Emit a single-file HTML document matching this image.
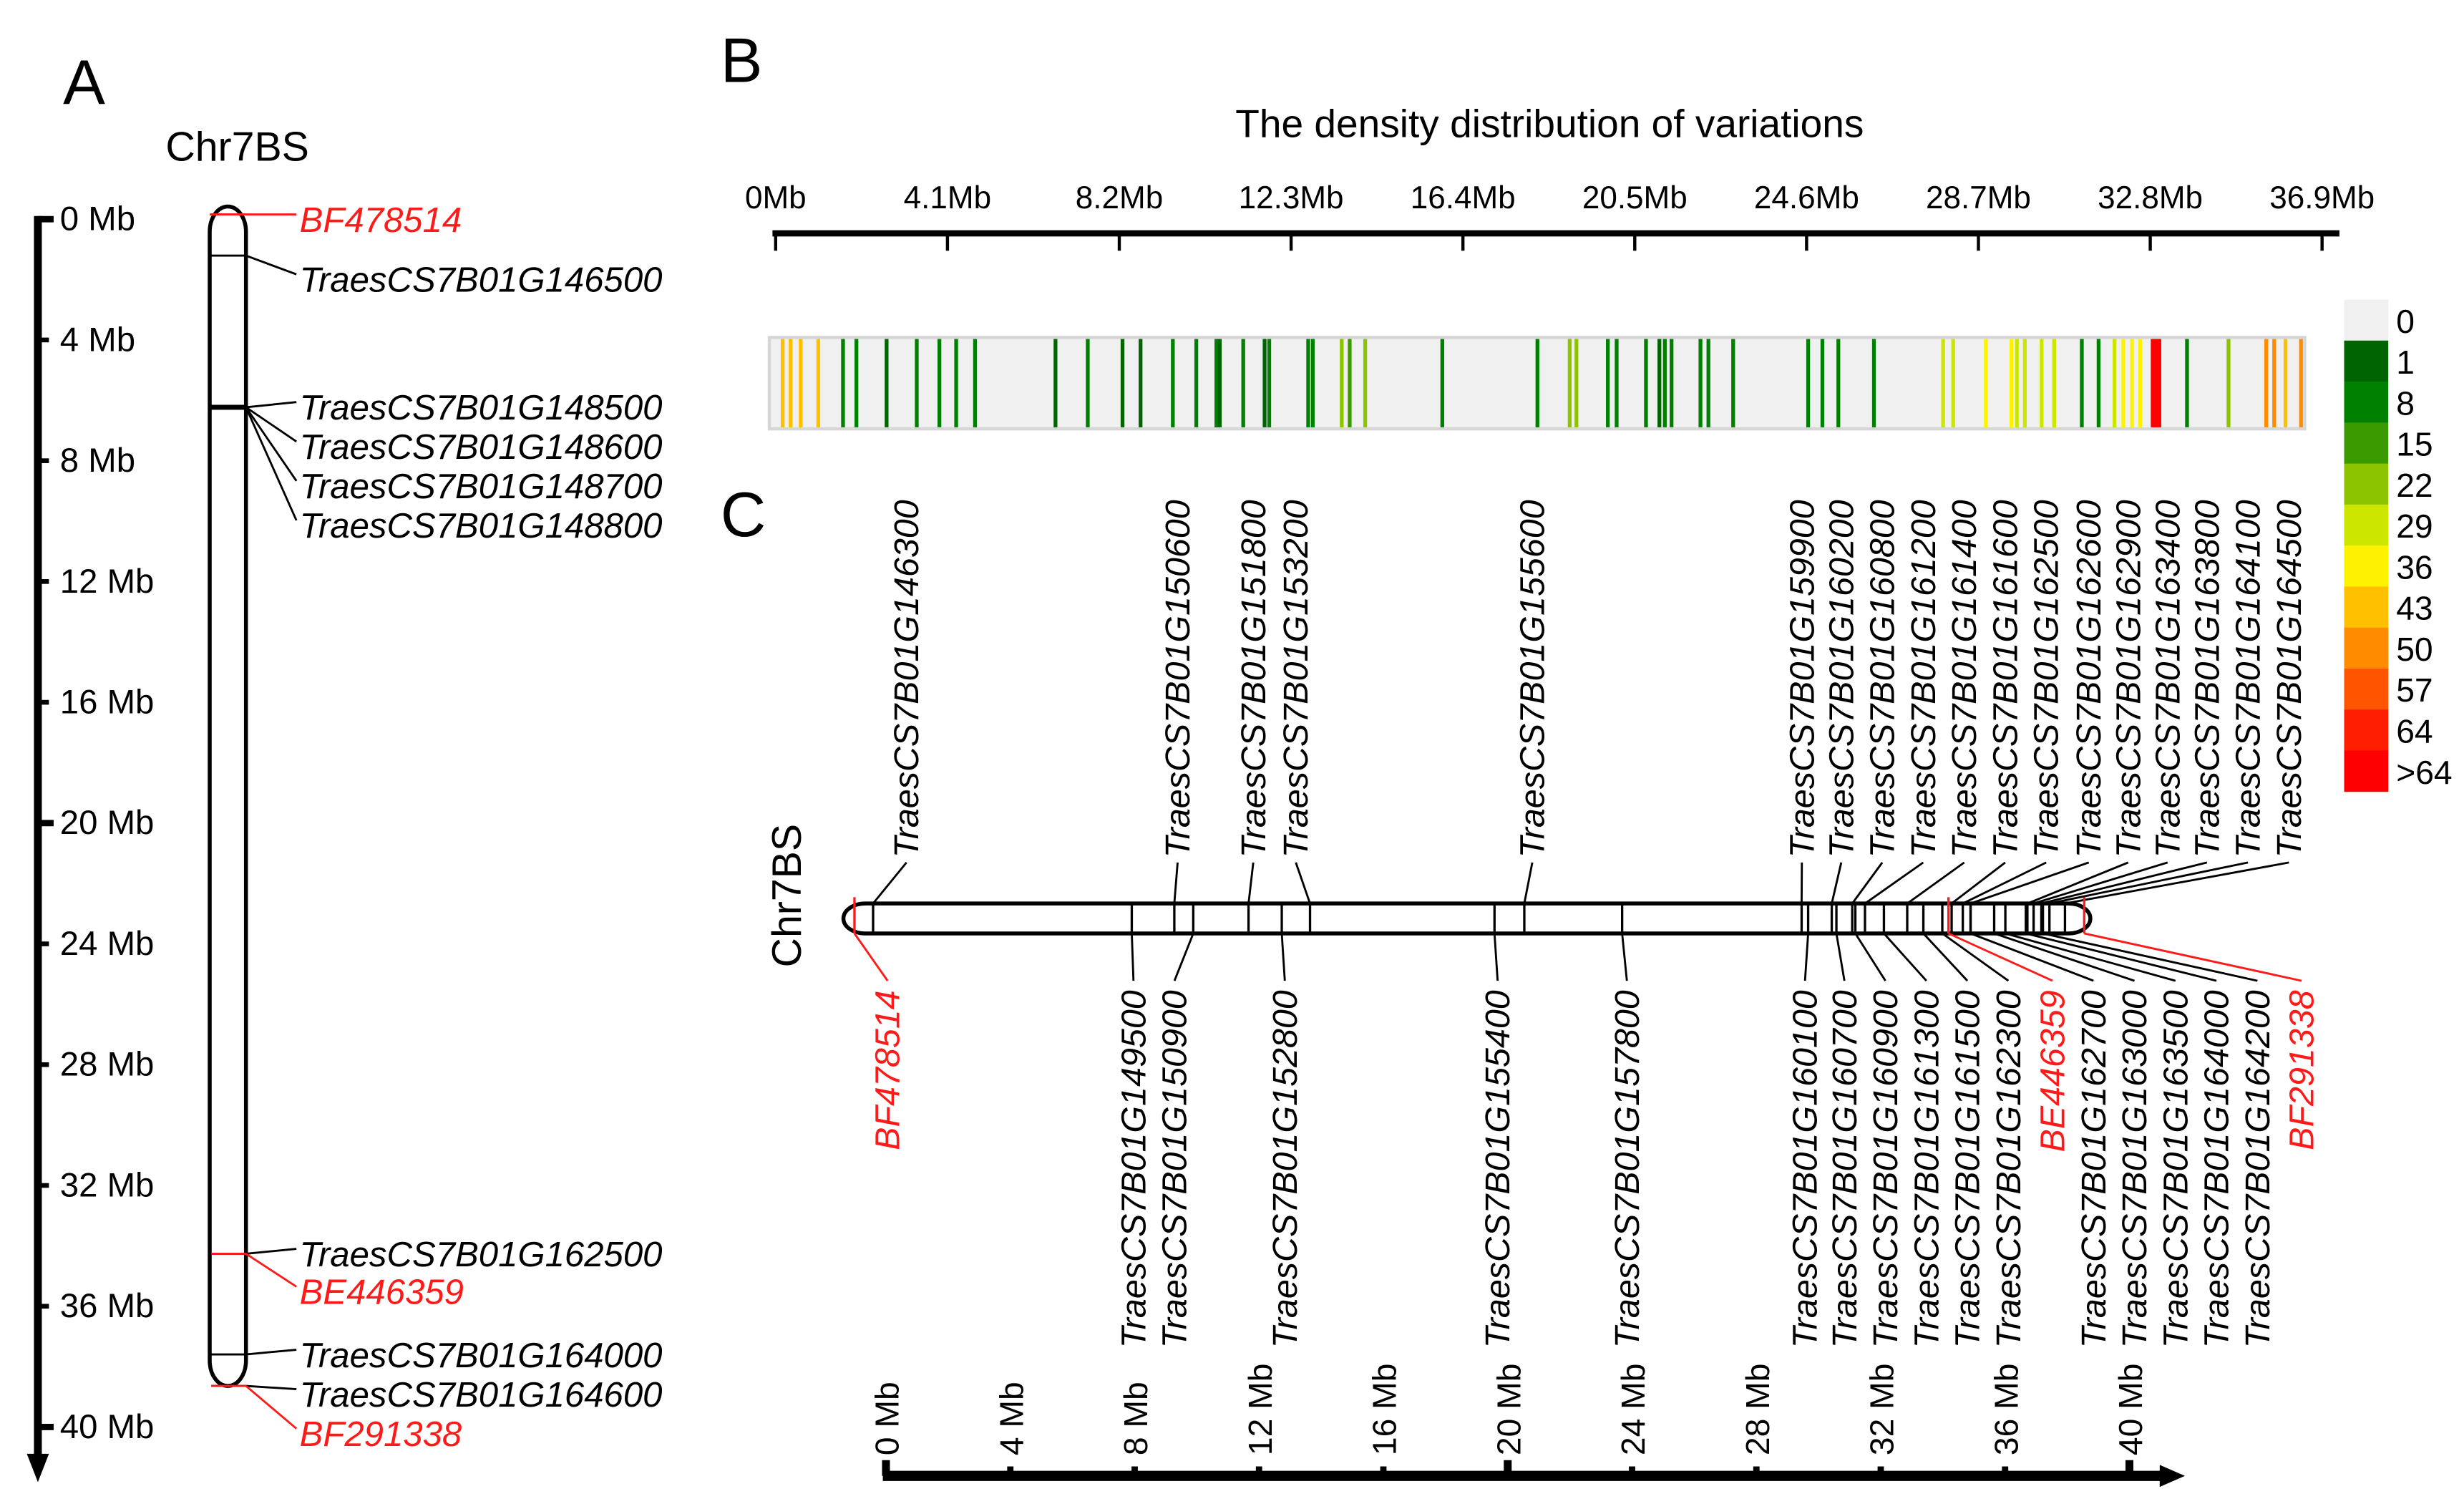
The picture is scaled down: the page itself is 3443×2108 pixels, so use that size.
<!DOCTYPE html>
<html><head><meta charset="utf-8"><style>
html,body{margin:0;padding:0;background:#fff;}
svg{display:block;font-family:"Liberation Sans",Arial,sans-serif;}
</style></head><body>
<svg id="fig" width="3443" height="2108" viewBox="0 0 1563 957" xmlns="http://www.w3.org/2000/svg">
<g id="pa"></g>
<g id="pb"></g>
<g id="pc"></g>
</svg>
<script>
// ---------- data ----------
const axisTicksMb = [0,4,8,12,16,20,24,28,32,36,40];
const bTickLabels = ["0Mb","4.1Mb","8.2Mb","12.3Mb","16.4Mb","20.5Mb","24.6Mb","28.7Mb","32.8Mb","36.9Mb"];
const bTickMb = [0,4.1,8.2,12.3,16.4,20.5,24.6,28.7,32.8,36.9];
const densityPosMb = [0.16,0.35,0.59,1.01,1.60,1.92,2.64,3.36,3.90,4.30,4.75,6.67,7.44,8.27,8.70,9.47,10.03,10.51,10.59,11.15,11.66,11.77,12.70,12.81,13.50,13.69,14.06,15.90,18.17,18.94,19.10,19.85,20.06,20.76,21.08,21.21,21.37,22.06,22.25,22.84,24.63,24.97,25.35,26.20,27.85,28.09,28.87,29.48,29.61,29.80,30.20,30.50,31.16,31.56,31.94,32.15,32.36,32.55,32.85,32.93,33.01,33.67,34.66,35.56,35.75,36.02,36.39];
const densityVal = [43,43,43,43,8,8,1,8,8,8,8,1,8,1,1,8,8,8,1,8,1,8,8,8,22,15,22,8,8,22,22,8,8,8,1,8,8,8,8,8,8,8,8,8,29,29,36,36,29,29,29,29,8,8,29,36,36,36,70,70,70,8,22,50,50,43,50];
const legendLabels = ["0","1","8","15","22","29","36","43","50","57","64",">64"];
const legendThresh = [0,1,8,15,22,29,36,43,50,57,64,65];
const legendColors = ["#f0f0f0","#006400","#008000","#3a9a00","#8cc400","#cce600","#fff200","#ffc000","#ff8c00","#ff5500","#ff1e00","#ff0000"];

const aGeneNames = ["BF478514","TraesCS7B01G146500","TraesCS7B01G148500","TraesCS7B01G148600","TraesCS7B01G148700","TraesCS7B01G148800","TraesCS7B01G162500","BE446359","TraesCS7B01G164000","TraesCS7B01G164600","BF291338"];
const aGeneMb = [0,1.37,6.42,6.42,6.42,6.42,34.6,34.6,37.95,39.0,39.0];
const aGeneMarker = [1,0,0,0,0,0,0,1,0,0,1];

const cTopNames = ["TraesCS7B01G146300","TraesCS7B01G150600","TraesCS7B01G151800","TraesCS7B01G153200","TraesCS7B01G155600","TraesCS7B01G159900","TraesCS7B01G160200","TraesCS7B01G160800","TraesCS7B01G161200","TraesCS7B01G161400","TraesCS7B01G161600","TraesCS7B01G162500","TraesCS7B01G162600","TraesCS7B01G162900","TraesCS7B01G163400","TraesCS7B01G163800","TraesCS7B01G164100","TraesCS7B01G164500"];
const cTopMb = [0.6,10.3,12.69,14.67,21.57,30.5,31.47,32.13,32.54,33.9,35.33,35.69,35.94,37.77,37.97,38.22,38.48,38.98];
const cBotNames = ["BF478514","TraesCS7B01G149500","TraesCS7B01G150900","TraesCS7B01G152800","TraesCS7B01G155400","TraesCS7B01G157800","TraesCS7B01G160100","TraesCS7B01G160700","TraesCS7B01G160900","TraesCS7B01G161300","TraesCS7B01G161500","TraesCS7B01G162300","BE446359","TraesCS7B01G162700","TraesCS7B01G163000","TraesCS7B01G163500","TraesCS7B01G164000","TraesCS7B01G164200","BF291338"];
const cBotMb = [0,8.93,10.91,13.76,20.61,24.72,30.71,31.62,32.23,33.15,34.42,35.03,35.23,35.94,36.7,37.06,37.72,38.27,39.6];
const cBotMarker = [1,0,0,0,0,0,0,0,0,0,0,0,1,0,0,0,0,0,1];

// layout slots (label positions, not data)
const topSlots = [575,747,795,822,972,1143,1168,1194,1220,1246,1272,1298,1325,1350,1375,1400,1426,1452];
const botSlots = [563,719,745,815,950,1032,1145,1170,1196,1222,1248,1274,1302,1328,1354,1380,1406,1432,1460];
const aLabelY = [140,178,259,284,309,334,796,820,860,885,910];

// ---------- helpers ----------
const NS="http://www.w3.org/2000/svg";
function mk(tag,attrs,parent,txt){const e=document.createElementNS(NS,tag);for(const k in attrs)e.setAttribute(k,attrs[k]);if(txt!==undefined)e.textContent=txt;parent.appendChild(e);return e;}
const RED="#ff1a1a";
const pa=document.getElementById('pa'),pb=document.getElementById('pb'),pc=document.getElementById('pc');

// ---------- Panel A ----------
const yA = mb => 136 + mb*19.05;
const yAx = mb => 139 + mb*19.15;
let t=mk('text',{x:40,y:66,'font-size':40},pa,'A');
t=mk('text',{x:105,y:102,'font-size':26},pa,'Chr7BS');
let l=mk('line',{x1:24,y1:yAx(0)-2,x2:24,y2:925,stroke:'#000','stroke-width':5},pa);
l=mk('path',{d:'M17,922 L31,922 L24,940 Z',fill:'#000'},pa);
axisTicksMb.forEach((v,i)=>{
  const y=yAx(v);const big=(v%20===0);
  const tk=mk('line',{x1:24,y1:y,x2:big?34:31,y2:y,stroke:'#000','stroke-width':big?4:3},pa);
  
  const tl=mk('text',{x:38,y:y+7,'font-size':21.5},pa,v+' Mb');
  
});
l=mk('rect',{x:133,y:yA(0)-5,width:23,height:yA(39)-yA(0)+5,rx:11.5,ry:16,fill:'none',stroke:'#000','stroke-width':2.5},pa);

aGeneNames.forEach((n,i)=>{
  const y=yA(aGeneMb[i]);const red=aGeneMarker[i]===1;const col=red?RED:'#000';
  const hl=mk('line',{x1:134,y1:y,x2:156,y2:y,stroke:col,'stroke-width':(i>=2&&i<=5)?3:1.3},pa);
  
  const ly=aLabelY[i];
  const ld=mk('line',{x1:156,y1:y,x2:188,y2:ly-4,stroke:col,'stroke-width':1.3},pa);
  
  if(i===0){const ex=mk('line',{x1:133,y1:y,x2:156,y2:y,stroke:RED,'stroke-width':1.3},pa);}
  const tx=mk('text',{x:190,y:ly+7,'font-size':22.3,'font-style':'italic',fill:col},pa,n);
  
});

// ---------- Panel B ----------
const xB = mb => 492 + mb*(981/36.9);
t=mk('text',{x:457,y:52,'font-size':40},pb,'B');
t=mk('text',{x:983,y:87,'font-size':25,'text-anchor':'middle'},pb,'The density distribution of variations');
l=mk('line',{x1:490,y1:148,x2:1484,y2:148,stroke:'#000','stroke-width':4},pb);
bTickMb.forEach((v,i)=>{
  const x=xB(v);
  const tk=mk('line',{x1:x,y1:148,x2:x,y2:159,stroke:'#000','stroke-width':2},pb);
  
  const tl=mk('text',{x:x,y:132,'font-size':20,'text-anchor':'middle'},pb,bTickLabels[i]);
  
});
l=mk('rect',{x:488,y:214,width:974,height:58,fill:'#f0f0f0',stroke:'#d6d6d6','stroke-width':2},pb);

function colorFor(v){let c=legendColors[0];for(let k=0;k<legendThresh.length;k++){if(v>=legendThresh[k])c=legendColors[k];}return c;}
densityPosMb.forEach((p,i)=>{
  const b=mk('rect',{x:xB(p)-1,y:215,width:2.4,height:56,fill:colorFor(densityVal[i])},pb);
  
});
legendColors.forEach((c,i)=>{
  const r=mk('rect',{x:1487,y:190+i*26,width:28,height:26.2,fill:c},pb);
  
  const tl=mk('text',{x:1520,y:211+i*26,'font-size':21},pb,legendLabels[i]);
  
});

// ---------- Panel C ----------
const xC = mb => 542 + mb*19.7;
const xAxC = mb => 562 + mb*19.72;
const cTop=573,cBot=592;
t=mk('text',{x:457,y:340,'font-size':40},pc,'C');
t=mk('text',{x:0,y:0,'font-size':26,'text-anchor':'middle',transform:'translate(508,568) rotate(-90)'},pc,'Chr7BS');
l=mk('rect',{x:535,y:cTop,width:791,height:cBot-cTop,rx:14,ry:9.5,fill:'none',stroke:'#000','stroke-width':2.5},pc);

cTopNames.forEach((n,i)=>{
  const gx=xC(cTopMb[i]);const sx=topSlots[i];
  const g=mk('line',{x1:gx,y1:cTop,x2:gx,y2:cBot,stroke:'#000','stroke-width':1.5},pc);
  
  const ld=mk('line',{x1:sx,y1:547,x2:gx,y2:cTop,stroke:'#000','stroke-width':1.3},pc);
  
  const tx=mk('text',{x:0,y:0,'font-size':22,'font-style':'italic',transform:`translate(${sx+7.5},544) rotate(-90)`},pc,n);
  
});
cBotNames.forEach((n,i)=>{
  const gx=xC(cBotMb[i]);const sx=botSlots[i];const col=cBotMarker[i]?RED:'#000';
  const g=mk('line',{x1:gx,y1:cBotMarker[i]?cTop-4:cTop,x2:gx,y2:cBot,stroke:col,'stroke-width':1.5},pc);
  
  const ld=mk('line',{x1:gx,y1:cBot,x2:sx,y2:622,stroke:col,'stroke-width':1.3},pc);
  
  const tx=mk('text',{x:0,y:0,'font-size':22,'font-style':'italic','text-anchor':'end',fill:col,transform:`translate(${sx+7.5},628) rotate(-90)`},pc,n);
  
});
l=mk('line',{x1:xAxC(0)-2,y1:936,x2:1375,y2:936,stroke:'#000','stroke-width':6.5},pc);
l=mk('path',{d:'M1370,929 L1386,936 L1370,943 Z',fill:'#000'},pc);
axisTicksMb.forEach(v=>{
  const x=xAxC(v);const big=(v%20===0);
  const tk=mk('line',{x1:x,y1:big?926:930,x2:x,y2:936,stroke:'#000','stroke-width':big?5:4},pc);
  
  const tl=mk('text',{x:0,y:0,'font-size':21,transform:`translate(${x+8},923) rotate(-90)`},pc,v+' Mb');
  
});
</script>
</body></html>
